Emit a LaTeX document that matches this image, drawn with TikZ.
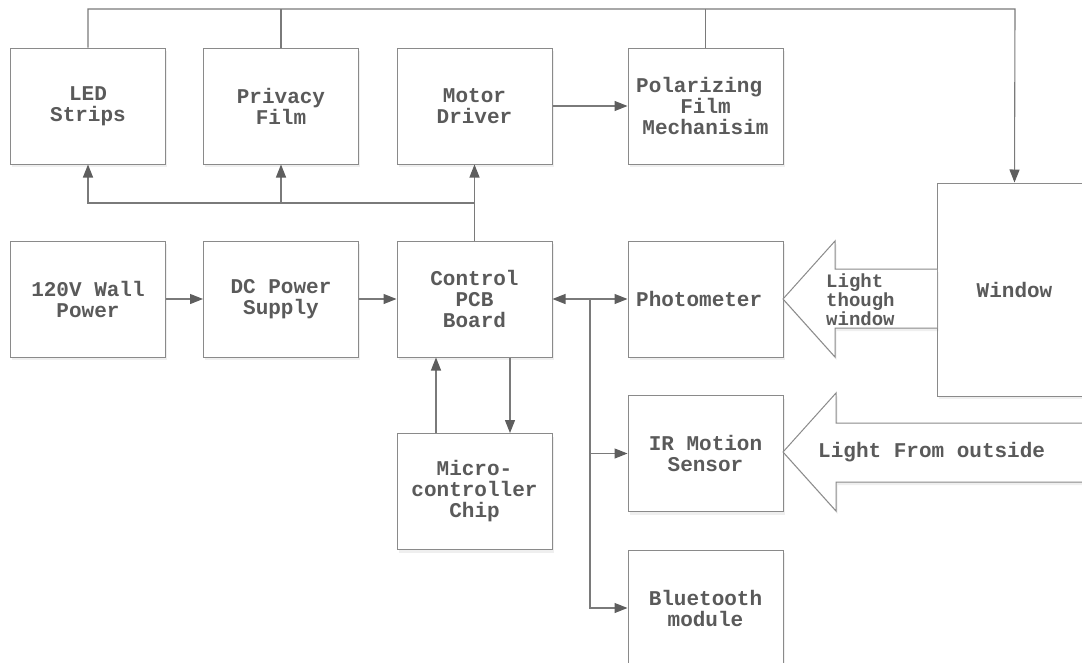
\documentclass[tikz,border=0pt]{standalone}
\usepackage{fontspec}
\setmonofont{Liberation Mono}
\usetikzlibrary{arrows.meta,shadows}
\definecolor{edgec}{HTML}{8A8A8A}
\definecolor{txtc}{HTML}{5A5A5A}
\definecolor{lnc}{HTML}{7A7A7A}
\definecolor{tipc}{HTML}{5E5E5E}
\begin{document}
\begin{tikzpicture}[x=1pt,y=-1pt,
  box/.style={draw=edgec, line width=1pt, fill=white, minimum width=155pt, minimum height=116pt,
    inner sep=0pt, align=center, font=\ttfamily\bfseries\fontsize{21}{21}\selectfont, text=txtc,
    drop shadow={opacity=0.12, shadow xshift=1.5pt, shadow yshift=-3pt}},
  conn/.style={draw=lnc, line width=1.1pt},
  arr/.style={conn, -{Triangle[length=13pt,width=10pt,fill=tipc,color=tipc]}},
  darr/.style={conn, {Triangle[length=13pt,width=10pt,fill=tipc,color=tipc]}-{Triangle[length=13pt,width=10pt,fill=tipc,color=tipc]}},
  bigarrow/.style={draw=edgec, line width=1pt, fill=white, drop shadow={opacity=0.12, shadow xshift=1.5pt, shadow yshift=-3pt}},
  lbl/.style={font=\ttfamily\bfseries\fontsize{21}{21}\selectfont, text=txtc, inner sep=0pt}
]
\useasboundingbox[fill=white] (0,0) rectangle (1082,662);

% boxes
\node[box] (LED)     at (88,106)    {LED\\Strips};
\node[box] (Privacy) at (281,106)   {Privacy\\Film};
\node[box] (Motor)   at (474.5,106) {Motor\\Driver};
\node[box] (Polar)   at (705.5,106) {Polarizing\hspace{12.6pt}\mbox{}\\Film\\Mechanisim};
\node[box] (Wall)    at (88,299)    {120V Wall\\Power};
\node[box] (DC)      at (281,299)   {DC Power\\Supply};
\node[box] (Control) at (474.5,299) {Control\\PCB\\Board};
\node[box] (Photo)   at (705.5,299) {Photometer\hspace{12.6pt}};
\node[box] (Micro)   at (474.5,491.5) {Micro-\\controller\\Chip};
\node[box] (IR)      at (705.5,453.5) {IR Motion\\Sensor};
\node[box] (BT)      at (705.5,608) {Bluetooth\\module};
\node[box, minimum height=213pt] (Window) at (1014.5,289.5) {Window};

% big hollow arrows
\filldraw[bigarrow] (937,269) -- (835,269) -- (835,241) -- (783,299) -- (835,357) -- (835,328) -- (937,328);
\node[lbl, font=\ttfamily\bfseries\fontsize{19}{19}\selectfont, align=left, anchor=west] (LT) at (826,300) {Light\\though\\window};
\filldraw[bigarrow] (1095,423) -- (836,423) -- (836,393) -- (783,452) -- (836,511) -- (836,482) -- (1095,482);
\node[lbl, anchor=west] (LO) at (818,452) {Light From outside};

% top bus
\coordinate (topR) at (1015,9);
\draw[arr] (LED.north) |- (topR) -- (Window.north);
\draw[conn] (Privacy.north) -- (Privacy.north |- topR);
\draw[conn] (Polar.north) -- (Polar.north |- topR);

% lower bus
\coordinate (bus) at (0,203);
\draw[arr] (Control.north) -- (Motor.south);
\draw[arr] (Control.north |- bus) -| (LED.south);
\draw[arr] (Privacy.south |- bus) -- (Privacy.south);

% power chain
\draw[arr] (Wall.east) -- (DC.west);
\draw[arr] (DC.east) -- (Control.west);
\draw[darr] (Control.east) -- (Photo.west);
\draw[arr] (Motor.east) -- (Polar.west);

% sensor branch
\coordinate (br) at (590,299);
\draw[arr] (br) |- (BT.west);
\draw[arr] (br |- IR.west) -- (IR.west);

% micro links
\draw[arr] ([xshift=-38.5pt]Micro.north) -- ([xshift=-38.5pt]Control.south);
\draw[arr] ([xshift=35.5pt]Control.south) -- ([xshift=35.5pt]Micro.north);
\end{tikzpicture}
\end{document}
